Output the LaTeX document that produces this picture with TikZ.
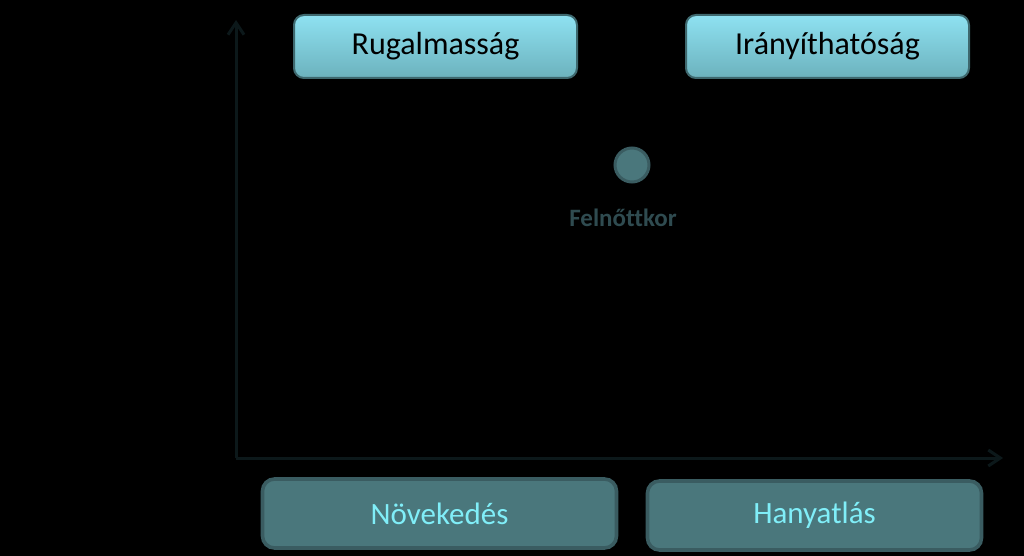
\documentclass[tikz,border=0pt]{standalone}
\usepackage{fontspec}
\setmainfont[Ligatures=NoCommon]{Carlito}
\usetikzlibrary{arrows.meta, positioning}
\definecolor{axis_dark}{RGB}{12, 24, 26}
\definecolor{box_top}{RGB}{142, 225, 241}
\definecolor{box_bot}{RGB}{108, 178, 189}
\definecolor{box_edge}{RGB}{62, 104, 110}
\definecolor{teal_fill}{RGB}{74, 119, 124}
\definecolor{teal_edge}{RGB}{58, 92, 97}
\definecolor{cyan_txt}{RGB}{128, 238, 248}
\definecolor{label_gray}{RGB}{47, 75, 80}

\begin{document}
\begin{tikzpicture}[x=0.5pt, y=-0.5pt,
    axisline/.style={axis_dark, line width=1.5pt, -{Straight Barb[length=6pt, width=8pt]}},
    topbox/.style={draw=box_edge, line width=1pt, rounded corners=5pt,
      top color=box_top, bottom color=box_bot,
      minimum width=141.5pt, minimum height=31.5pt,
      font=\fontsize{16}{19}\selectfont, text=black},
    botbox/.style={draw=teal_edge, line width=1.8pt, rounded corners=6pt,
      fill=teal_fill, minimum height=34.5pt,
      font=\fontsize{15.5}{18}\selectfont, text=cyan_txt}]
        % Background and frame
        \useasboundingbox[fill=black] (0,0) rectangle (1024,556);

        % Axes
        \coordinate (origin) at (236,458);
        \coordinate (ytop) at (236,20);
        \coordinate (xend) at (1003,458);
        \draw[axisline] (origin) -- (ytop);
        \draw[axisline] (origin) -- (xend);

        % Top labels
        \node[topbox] (rugal) at (435.5,46.5) {Rugalmasság};
        \node[topbox] (irany) at (827.5,46.5) {Irányíthatóság};

        % Point
        \node[circle, draw=teal_edge, line width=1.5pt, fill=teal_fill,
          minimum size=17pt, inner sep=0pt] (adult) at (632,165) {};
        \node[font=\fontsize{12.5}{15}\selectfont\bfseries, text=label_gray]
          (adultlbl) at (623,218) {Felnőttkor};

        % Bottom labels
        \node[botbox, minimum width=177pt] (novek) at (439.5,513.5) {Növekedés};
        \node[botbox, minimum width=167pt] (hanyat) at (814.5,515.5) {Hanyatlás};
      \end{tikzpicture}
\end{document}
